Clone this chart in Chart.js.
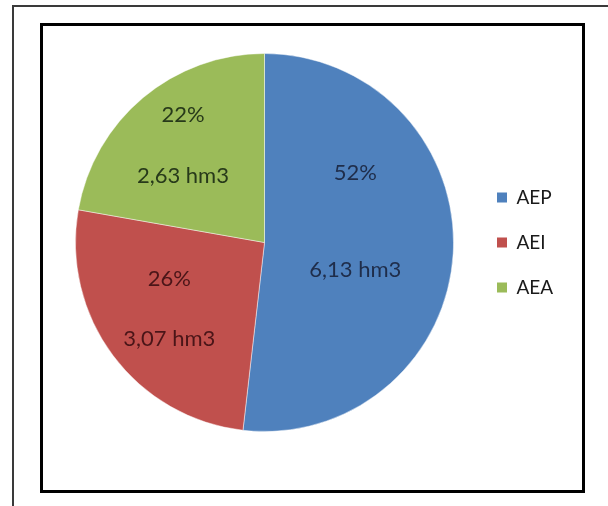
<!DOCTYPE html>
<html><head><meta charset="utf-8">
<script src="https://cdn.jsdelivr.net/npm/chart.js@4/dist/chart.umd.min.js"></script>
<style>
html,body{margin:0;padding:0;background:#fff;}
#wrap{position:relative;width:608px;height:506px;overflow:hidden;background:#fff;}
#outer{position:absolute;left:12px;top:5px;width:700px;height:600px;border-top:2px solid #3a3a3a;border-left:2px solid #3a3a3a;}
#inner{position:absolute;left:40px;top:23px;width:545px;height:470px;border:3px solid #000;box-sizing:border-box;}
canvas{position:absolute;left:0;top:0;}
</style></head><body>
<div id="wrap"><div id="outer"></div><div id="inner"></div><canvas id="c" width="608" height="506" style="width:608px;height:506px"></canvas></div>
<script>
// ---- data ----
const categories = ['AEP', 'AEI', 'AEA'];
const volumes = [6.13, 3.07, 2.63];
const unit = 'hm3';

// ---- styles ----
const sliceColors = ['#4F81BD', '#C0504D', '#9BBB59'];
const labelColors = ['#1f2d4a', '#4a1518', '#27391a'];

const sliceLabels = {
  id: 'sliceLabels',
  afterDatasetsDraw(chart, args, opts) {
    const ctx = chart.ctx;
    const meta = chart.getDatasetMeta(0);
    const data = chart.data.datasets[0].data;
    const total = data.reduce((a, b) => a + b, 0);
    ctx.save();
    ctx.font = opts.font;
    ctx.textAlign = 'center';
    ctx.textBaseline = 'middle';
    meta.data.forEach((arc, i) => {
      const p = arc.getProps(['x', 'y', 'startAngle', 'endAngle', 'outerRadius'], true);
      const L = opts.layout[i];
      const a = (p.startAngle + p.endAngle) / 2 + L.shift * Math.PI / 180;
      const cx = p.x + Math.cos(a) * p.outerRadius * L.dist;
      const cy = p.y + Math.sin(a) * p.outerRadius * L.dist;
      ctx.fillStyle = opts.colors[i];
      const pct = Math.round(data[i] / total * 100) + '%';
      const val = data[i].toFixed(2).replace('.', ',') + ' ' + unit;
      ctx.fillText(pct, cx, cy - L.gap / 2);
      ctx.fillText(val, cx, cy + L.gap / 2);
    });
    ctx.restore();
  }
};

const baseGen = Chart.overrides.pie.plugins.legend.labels.generateLabels;

const chart = new Chart(document.getElementById('c'), {
  type: 'pie',
  data: {
    labels: categories,
    datasets: [{
      data: volumes,
      backgroundColor: sliceColors,
      borderColor: 'rgba(255,255,255,0.45)',
      borderWidth: 1
    }]
  },
  options: {
    responsive: false,
    animation: false,
    layout: { padding: { left: 58, top: 53, bottom: 74, right: 40 } },
    plugins: {
      tooltip: { enabled: false },
      legend: {
        position: 'right',
        labels: {
          font: { family: 'Lato', size: 19 },
          color: '#1a1a1a',
          boxWidth: 10,
          boxHeight: 10,
          padding: 26,
          generateLabels: (c) => baseGen(c).map(l => Object.assign(l, { lineWidth: 0 }))
        }
      },
      sliceLabels: {
        font: '22px Lato',
        colors: labelColors,
        layout: [
          { dist: 0.493, shift: -16.4, gap: 96.5 },
          { dist: 0.614, shift: 1.9, gap: 60 },
          { dist: 0.671, shift: 0, gap: 61.5 }
        ]
      }
    }
  },
  plugins: [sliceLabels]
});
// place the legend so the chart area ends at x=471
chart.options.layout.padding.right = 608 - 471 - chart.legend.width;
chart.update('none');
</script>
</body></html>
